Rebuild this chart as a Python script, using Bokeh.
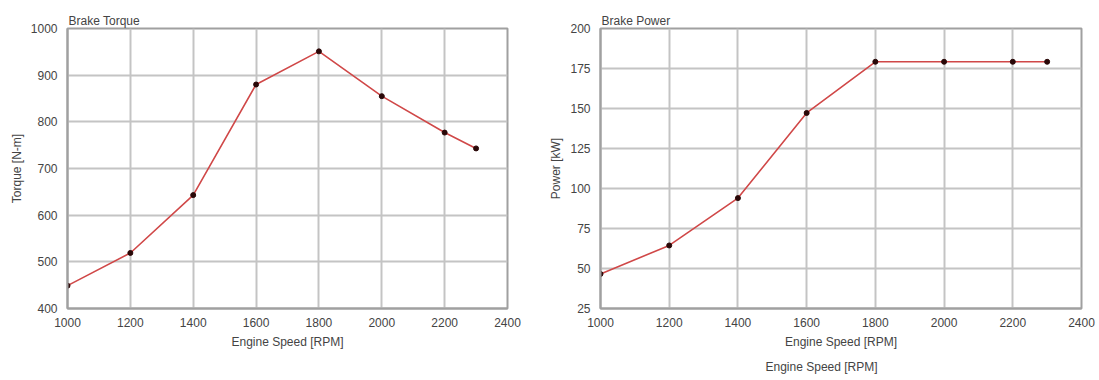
from bokeh.plotting import figure
from bokeh.layouts import row
from bokeh.models import Range1d, FixedTicker, Title
from bokeh.embed import file_html
from bokeh.resources import INLINE

# Engine test results
rpm = [1000, 1200, 1400, 1600, 1800, 2000, 2200, 2300]
torque_nm = [449, 519, 643, 880, 951, 855, 777, 743]
power_kw = [46.6, 64.4, 94, 147.2, 179.2, 179.2, 179.2, 179.2]

x_ticks = [1000, 1200, 1400, 1600, 1800, 2000, 2200, 2400]
torque_ticks = [400, 500, 600, 700, 800, 900, 1000]
power_ticks = [25, 50, 75, 100, 125, 150, 175, 200]

FONT = "Liberation Sans"
TEXT = "#444444"
GRID = "#c4c4c4"
FRAME = "#a0a0a0"
LINE = "#d04848"
DOT = "#2a0808"


def make_chart(title, ylabel, y, yticks, width, borders):
    left, right, top, bottom = borders
    p = figure(width=width, height=380, output_backend="svg", toolbar_location=None,
               x_range=Range1d(1000, 2400), y_range=Range1d(yticks[0], yticks[-1]),
               min_border_left=left, min_border_right=right,
               min_border_top=top, min_border_bottom=bottom,
               title=title)
    p.title.text_font = FONT
    p.title.text_font_size = "12px"
    p.title.text_font_style = "normal"
    p.title.text_color = TEXT
    p.title.offset = 1
    p.title.standoff = 1
    p.outline_line_color = FRAME
    p.outline_line_width = 2

    for ax in (p.xaxis[0], p.yaxis[0]):
        ax.axis_line_color = FRAME
        ax.axis_line_width = 2
        ax.major_tick_line_color = None
        ax.minor_tick_line_color = None
        ax.major_label_text_font = FONT
        ax.major_label_text_font_size = "12px"
        ax.major_label_text_color = TEXT
        ax.axis_label_text_font = FONT
        ax.axis_label_text_font_size = "12px"
        ax.axis_label_text_font_style = "normal"
        ax.axis_label_text_color = TEXT

    p.xaxis.ticker = FixedTicker(ticks=x_ticks)
    p.yaxis.ticker = FixedTicker(ticks=yticks)
    p.xaxis.major_label_standoff = 3
    p.yaxis.major_label_standoff = 4
    p.xaxis.axis_label = "Engine Speed [RPM]"
    p.yaxis.axis_label = ylabel
    p.xaxis.axis_label_standoff = 5
    p.xaxis.axis_label_text_line_height = 1.0
    p.yaxis.axis_label_standoff = 4

    p.grid.grid_line_color = GRID
    p.grid.grid_line_width = 2

    p.line(rpm, y, line_color=LINE, line_width=1.6)
    p.scatter(rpm, y, size=5, fill_color=DOT, line_color=DOT)
    return p


p1 = make_chart("Brake Torque", "Torque [N-m]", torque_nm, torque_ticks, 540,
                (67, 33, 28, 71))
p2 = make_chart("Brake Power", "Power [kW]", power_kw, power_ticks, 559,
                (60, 18, 28, 69))

# second speed caption under the power chart
p2.add_layout(Title(text="Engine Speed [RPM]", align="left", offset=165, standoff=13,
                    text_line_height=0.8,
                    text_font=FONT, text_font_size="12px", text_font_style="normal",
                    text_color=TEXT), "below")

layout = row(p1, p2, spacing=0)

open("out.html", "w").write(file_html(layout, INLINE))
